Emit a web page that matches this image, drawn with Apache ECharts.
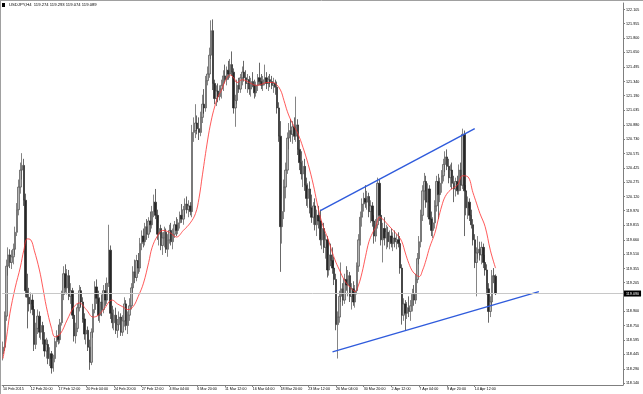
<!DOCTYPE html>
<html><head><meta charset="utf-8">
<script src="https://cdn.jsdelivr.net/npm/echarts@6/dist/echarts.min.js"></script>
<style>html,body{margin:0;padding:0;background:#fff}#c{width:643px;height:394px}</style>
</head><body><div id="c"></div>
<script>
const symbolTitle = 'USDJPY,H4';
const headerValues = ['119.274', '119.293', '119.074', '119.089'];
const tickLabels = ['10 Feb 2015','12 Feb 20:00','17 Feb 12:00','20 Feb 04:00','24 Feb 20:00','27 Feb 12:00','4 Mar 04:00','6 Mar 20:00','11 Mar 12:00','16 Mar 04:00','18 Mar 20:00','23 Mar 12:00','26 Mar 04:00','30 Mar 20:00','2 Apr 12:00','7 Apr 04:00','9 Apr 20:00','14 Apr 12:00'];
const labelEvery = 16;
const slotCount = 358;
const yTicks = [118.140,118.290,118.445,118.595,118.750,118.900,119.205,119.355,119.510,119.660,119.815,119.970,120.120,120.275,120.425,120.575,120.730,120.880,121.035,121.190,121.340,121.495,121.650,121.800,121.955,122.105];

const opens = [118.45,118.52,118.85,119.38,119.50,119.42,119.48,119.56,119.74,119.98,
120.22,120.40,120.45,120.08,119.12,119.05,118.98,119.02,118.92,118.55,
118.72,118.85,118.68,118.75,118.60,118.48,118.55,118.40,118.45,118.30,
118.40,118.58,118.64,118.60,118.78,119.08,119.30,119.15,119.28,119.06,
119.12,118.86,118.64,118.72,118.94,119.12,119.00,118.82,118.66,118.70,
118.52,118.36,118.68,118.92,119.16,119.04,118.86,119.00,118.92,119.12,
119.02,119.20,119.55,118.88,118.78,118.86,118.70,118.76,118.84,118.68,
118.80,118.98,118.75,118.86,118.96,119.15,119.32,119.26,119.44,119.36,
119.62,119.70,119.64,119.80,119.72,119.86,119.82,119.96,120.06,119.92,
119.72,119.78,119.60,119.68,119.74,119.56,119.66,119.76,119.64,119.72,
119.82,119.76,119.84,119.92,119.88,119.98,120.04,119.98,120.02,119.96,
120.80,120.82,120.90,120.84,120.80,120.96,121.10,121.06,121.35,121.42,
121.62,121.88,121.32,121.16,121.24,121.18,121.26,121.30,121.40,121.36,
121.46,121.42,121.52,121.44,121.06,121.14,121.30,121.26,121.38,121.44,
121.38,121.32,121.36,121.26,121.34,121.30,121.22,121.30,121.38,121.34,
121.30,121.36,121.38,121.32,121.36,121.34,121.30,121.32,121.28,121.06,
120.76,119.80,119.96,120.22,120.40,120.74,120.82,120.78,120.86,120.76,
120.88,120.62,120.48,120.36,120.44,120.24,120.10,120.20,120.00,119.90,
120.02,119.82,119.92,119.86,119.66,119.78,119.58,119.66,119.34,119.50,
119.44,119.36,119.24,118.76,118.84,119.06,119.14,119.02,119.24,119.18,
119.28,119.06,119.14,119.00,119.12,119.38,119.66,119.90,120.04,120.10,
120.06,120.12,119.96,120.02,119.86,119.70,119.82,120.26,119.92,119.66,
119.78,119.68,119.74,119.64,119.70,119.62,119.68,119.64,119.66,119.62,
119.36,118.86,118.98,118.88,118.94,118.90,118.96,119.08,119.02,119.24,
119.46,119.64,119.92,120.18,120.28,120.06,120.20,119.88,119.76,119.84,
120.02,120.28,120.14,120.26,120.34,120.46,120.54,120.44,120.32,120.40,
120.26,120.20,120.28,120.18,120.40,120.24,120.78,120.18,120.00,120.06,
119.92,119.82,119.66,119.42,119.52,119.56,119.50,119.58,119.42,119.34,
119.14,118.90,119.00,119.28,119.274];
const highs = [118.58,118.90,119.45,119.58,119.56,119.55,119.62,119.80,120.05,120.30,
120.48,120.58,120.52,120.15,119.30,119.15,119.10,119.08,118.96,118.78,
118.92,118.90,118.80,118.79,118.68,118.62,118.60,118.52,118.48,118.44,
118.62,118.70,118.76,118.82,119.12,119.38,119.40,119.35,119.34,119.20,
119.15,118.92,118.78,118.98,119.18,119.16,119.05,118.88,118.74,118.74,
118.60,118.72,118.98,119.22,119.24,119.12,119.05,119.08,119.18,119.20,
119.26,119.82,119.60,118.96,118.92,118.94,118.82,118.90,118.88,118.86,
119.05,119.02,118.90,119.04,119.20,119.38,119.45,119.50,119.52,119.68,
119.76,119.78,119.84,119.88,119.90,119.96,120.02,120.14,120.20,119.98,
119.84,119.82,119.74,119.80,119.78,119.72,119.82,119.84,119.78,119.86,
119.90,119.88,119.96,120.04,120.02,120.10,120.12,120.08,120.06,120.88,
120.96,121.10,120.98,120.96,121.02,121.20,121.26,121.40,121.50,121.70,
121.99,122.00,121.36,121.30,121.32,121.30,121.36,121.46,121.52,121.50,
121.56,121.58,121.66,121.48,121.20,121.36,121.38,121.42,121.50,121.56,
121.46,121.42,121.40,121.38,121.44,121.36,121.34,121.42,121.54,121.42,
121.40,121.52,121.44,121.40,121.42,121.40,121.38,121.36,121.34,121.12,
120.92,120.10,120.30,120.48,120.80,120.90,120.94,120.92,120.96,121.18,
120.94,120.72,120.60,120.50,120.52,120.32,120.26,120.28,120.14,120.06,
120.10,119.98,120.02,119.98,119.86,119.84,119.72,119.70,119.56,119.62,
119.58,119.48,119.30,118.90,119.12,119.42,119.20,119.30,119.38,119.34,
119.32,119.20,119.22,119.18,119.42,119.72,119.96,120.10,120.16,120.24,
120.18,120.16,120.08,120.06,119.92,119.88,120.32,120.30,119.98,119.84,
119.90,119.82,119.80,119.76,119.78,119.74,119.76,119.72,119.74,119.70,
119.40,119.04,119.02,119.00,119.06,119.02,119.14,119.18,119.30,119.52,
119.70,119.98,120.24,120.37,120.34,120.26,120.24,119.96,119.90,120.08,
120.34,120.36,120.32,120.40,120.52,120.60,120.62,120.52,120.46,120.48,
120.34,120.32,120.34,120.46,120.48,120.84,120.82,120.24,120.12,120.10,
119.98,119.88,119.72,119.58,119.70,119.64,119.64,119.62,119.50,119.40,
119.20,119.06,119.34,119.36,119.293];
const lows = [118.38,118.48,118.80,119.28,119.36,119.35,119.40,119.50,119.70,119.92,
120.15,120.30,120.02,119.05,118.72,118.90,118.88,118.86,118.48,118.50,
118.66,118.62,118.60,118.55,118.42,118.40,118.34,118.32,118.24,118.26,
118.36,118.52,118.55,118.56,118.75,119.02,119.10,119.08,119.02,118.98,
118.82,118.58,118.56,118.68,118.90,118.95,118.78,118.60,118.55,118.48,
118.28,118.33,118.62,118.88,118.98,118.80,118.78,118.85,118.88,118.96,
118.98,119.16,118.82,118.72,118.70,118.66,118.62,118.70,118.64,118.64,
118.74,118.70,118.66,118.80,118.92,119.10,119.20,119.22,119.30,119.32,
119.55,119.58,119.60,119.66,119.68,119.74,119.78,119.90,119.88,119.66,
119.60,119.55,119.50,119.58,119.52,119.48,119.62,119.60,119.56,119.68,
119.70,119.72,119.78,119.84,119.82,119.90,119.94,119.90,119.92,119.90,
120.70,120.74,120.78,120.72,120.76,120.90,121.00,121.02,121.30,121.38,
121.58,121.25,121.10,121.08,121.12,121.14,121.16,121.24,121.32,121.30,
121.36,121.38,121.40,121.00,120.86,121.10,121.22,121.22,121.30,121.34,
121.26,121.22,121.20,121.18,121.28,121.16,121.18,121.24,121.30,121.26,
121.24,121.30,121.26,121.24,121.28,121.26,121.22,121.20,121.00,120.70,
119.32,119.62,119.88,120.10,120.36,120.62,120.70,120.68,120.72,120.70,
120.56,120.40,120.30,120.22,120.18,120.02,120.00,119.94,119.84,119.82,
119.76,119.70,119.78,119.60,119.56,119.52,119.46,119.26,119.28,119.38,
119.30,119.18,118.70,118.40,118.78,119.00,118.96,118.98,119.12,119.06,
119.00,118.92,118.96,118.94,119.08,119.32,119.60,119.80,119.96,120.00,
119.98,119.90,119.84,119.80,119.62,119.64,119.78,119.86,119.60,119.42,
119.60,119.56,119.58,119.56,119.58,119.54,119.58,119.56,119.58,119.30,
118.76,118.80,118.70,118.82,118.84,118.80,118.90,118.96,118.98,119.20,
119.40,119.58,119.86,120.08,120.00,119.90,119.82,119.70,119.68,119.78,
119.96,119.88,120.06,120.16,120.28,120.38,120.40,120.26,120.22,120.20,
120.06,120.12,120.14,120.14,120.18,120.20,119.70,119.92,119.88,119.86,
119.78,119.60,119.36,119.06,119.46,119.44,119.40,119.36,119.28,119.08,
118.78,118.84,118.96,119.20,119.074];
const closes = [118.52,118.85,119.38,119.50,119.42,119.48,119.56,119.74,119.98,120.22,
120.40,120.45,120.08,119.12,119.05,118.98,119.02,118.92,118.55,118.72,
118.85,118.68,118.75,118.60,118.48,118.55,118.40,118.45,118.30,118.40,
118.58,118.64,118.60,118.78,119.08,119.30,119.15,119.28,119.06,119.12,
118.86,118.64,118.72,118.94,119.12,119.00,118.82,118.66,118.70,118.52,
118.36,118.68,118.92,119.16,119.04,118.86,119.00,118.92,119.12,119.02,
119.20,119.55,118.88,118.78,118.86,118.70,118.76,118.84,118.68,118.80,
118.98,118.75,118.86,118.96,119.15,119.32,119.26,119.44,119.36,119.62,
119.70,119.64,119.80,119.72,119.86,119.82,119.96,120.06,119.92,119.72,
119.78,119.60,119.68,119.74,119.56,119.66,119.76,119.64,119.72,119.82,
119.76,119.84,119.92,119.88,119.98,120.04,119.98,120.02,119.96,120.80,
120.82,120.90,120.84,120.80,120.96,121.10,121.06,121.35,121.42,121.62,
121.88,121.32,121.16,121.24,121.18,121.26,121.30,121.40,121.36,121.46,
121.42,121.52,121.44,121.06,121.14,121.30,121.26,121.38,121.44,121.38,
121.32,121.36,121.26,121.34,121.30,121.22,121.30,121.38,121.34,121.30,
121.36,121.38,121.32,121.36,121.34,121.30,121.32,121.28,121.06,120.76,
119.80,119.96,120.22,120.40,120.74,120.82,120.78,120.86,120.76,120.88,
120.62,120.48,120.36,120.44,120.24,120.10,120.20,120.00,119.90,120.02,
119.82,119.92,119.86,119.66,119.78,119.58,119.66,119.34,119.50,119.44,
119.36,119.24,118.76,118.84,119.06,119.14,119.02,119.24,119.18,119.28,
119.06,119.14,119.00,119.12,119.38,119.66,119.90,120.04,120.10,120.06,
120.12,119.96,120.02,119.86,119.70,119.82,120.26,119.92,119.66,119.78,
119.68,119.74,119.64,119.70,119.62,119.68,119.64,119.66,119.62,119.36,
118.86,118.98,118.88,118.94,118.90,118.96,119.08,119.02,119.24,119.46,
119.64,119.92,120.18,120.28,120.06,120.20,119.88,119.76,119.84,120.02,
120.28,120.14,120.26,120.34,120.46,120.54,120.44,120.32,120.40,120.26,
120.20,120.28,120.18,120.40,120.24,120.78,120.18,120.00,120.06,119.92,
119.82,119.66,119.42,119.52,119.56,119.50,119.58,119.42,119.34,119.14,
118.90,119.00,119.28,119.274,119.089];

const maIdx = [0,2,4,7,10,12,14,16,18,21,23,25,28,30,33,37,41,44,48,52,55,58,63,66,69,72,75,78,81,84,86,89,92,96,100,104,108,111,113,115,118,120,122,124,126,128,131,133,135,138,142,146,149,152,155,157,160,162,164,166,168,170,173,176,179,181,183,185,187,190,192,194,196,198,201,203,205,207,209,211,213,215,217,219,221,224,226,228,230,232,234,236,238,240,242,244,246,249,251,253,255,258,262,265,268,271,273,275,278,281,284];
const maVal = [118.40,118.62,118.88,119.15,119.37,119.55,119.67,119.66,119.55,119.34,119.15,118.95,118.72,118.63,118.66,118.81,118.95,118.99,118.92,118.84,118.86,118.92,119.02,118.98,118.95,118.92,118.95,119.06,119.20,119.42,119.58,119.70,119.76,119.74,119.69,119.76,119.84,119.94,120.10,120.35,120.72,120.92,121.07,121.18,121.25,121.34,121.41,121.38,121.33,121.36,121.33,121.30,121.31,121.33,121.33,121.32,121.25,121.14,121.02,120.93,120.86,120.79,120.64,120.46,120.24,120.06,119.90,119.78,119.69,119.52,119.42,119.34,119.26,119.20,119.14,119.11,119.18,119.31,119.48,119.64,119.73,119.80,119.90,119.88,119.84,119.78,119.74,119.70,119.64,119.52,119.41,119.33,119.29,119.27,119.34,119.45,119.58,119.73,119.88,120.02,120.12,120.19,120.24,120.34,120.33,120.16,120.05,119.94,119.80,119.55,119.36];

const upperLine = [[183, 119.97], [272, 120.84]];
const lowerLine = [[190, 118.47], [309, 119.11]];

const FONT = 'Liberation Sans';
const chart = echarts.init(document.getElementById('c'), null, {renderer: 'canvas'});
const lastClose = closes[closes.length - 1];
const showIdx = (idx) => idx % labelEvery === 0 && idx / labelEvery < tickLabels.length;

chart.setOption({
  animation: false,
  backgroundColor: '#ffffff',
  grid: {left: 2, right: 20, top: 3, bottom: 9, containLabel: false},
  xAxis: {
    type: 'category',
    data: Array.from({length: slotCount}, (_, k) => k),
    boundaryGap: true,
    axisLine: {show: true, lineStyle: {color: '#7f7f7f', width: 1}},
    axisTick: {show: true, interval: (idx) => showIdx(idx), alignWithLabel: true, length: 2, lineStyle: {color: '#7f7f7f'}},
    axisLabel: {interval: (idx) => showIdx(idx), formatter: (v, idx) => showIdx(idx) ? tickLabels[idx / labelEvery] : '',
      align: 'left', fontSize: 3.7, color: '#000', margin: 2, fontFamily: FONT},
    splitLine: {show: false}
  },
  yAxis: {
    type: 'value', position: 'right', min: 118.119, max: 122.174,
    axisLine: {show: true, lineStyle: {color: '#7f7f7f', width: 1}},
    axisTick: {show: true, customValues: yTicks, length: 2, lineStyle: {color: '#7f7f7f'}},
    axisLabel: {customValues: yTicks, formatter: (v) => Number(v).toFixed(3), fontSize: 3.7, color: '#000', margin: 3, fontFamily: FONT},
    splitLine: {show: false}
  },
  series: [
    {
      type: 'candlestick',
      data: opens.map((o, k) => [o, closes[k], lows[k], highs[k]]),
      barWidth: 1.9,
      itemStyle: {color: '#b4b4b4', color0: '#262626', borderColor: '#505050', borderColor0: '#262626', borderWidth: 0.7},
      z: 2,
      markLine: {
        silent: true, symbol: ['none', 'none'], animation: false,
        data: [{yAxis: lastClose}],
        lineStyle: {color: '#c8c8c8', width: 1, type: 'solid'},
        label: {show: true, position: 'end', distance: 1, formatter: (p) => Number(p.value).toFixed(3),
          backgroundColor: '#000', color: '#fff', fontSize: 3.7, padding: [1, 2], fontFamily: FONT}
      }
    },
    {
      type: 'line', data: maIdx.map((k, j) => [k, maVal[j]]), showSymbol: false, smooth: 0.4,
      lineStyle: {color: '#ff3030', width: 0.8}, z: 3, silent: true
    },
    {
      type: 'line', data: upperLine, showSymbol: false, lineStyle: {color: '#2f5bdc', width: 1.4}, z: 4, silent: true
    },
    {
      type: 'line', data: lowerLine, showSymbol: false, lineStyle: {color: '#2f5bdc', width: 1.4}, z: 4, silent: true
    }
  ],
  graphic: [
    {type: 'line', shape: {x1: 0.5, y1: 0, x2: 0.5, y2: 394}, style: {stroke: '#a0a0a0', lineWidth: 1}},
    {type: 'line', shape: {x1: 0, y1: 0.5, x2: 643, y2: 0.5}, style: {stroke: '#a0a0a0', lineWidth: 1}},
    {type: 'rect', shape: {x: 2, y: 3, width: 3, height: 4}, style: {fill: '#000'}},
    {type: 'text', x: 9, y: 5, style: {text: symbolTitle + '  ' + headerValues.join(' '), fontSize: 4.2, fontFamily: FONT, fill: '#000', verticalAlign: 'middle'}}
  ]
});
</script>
</body></html>
